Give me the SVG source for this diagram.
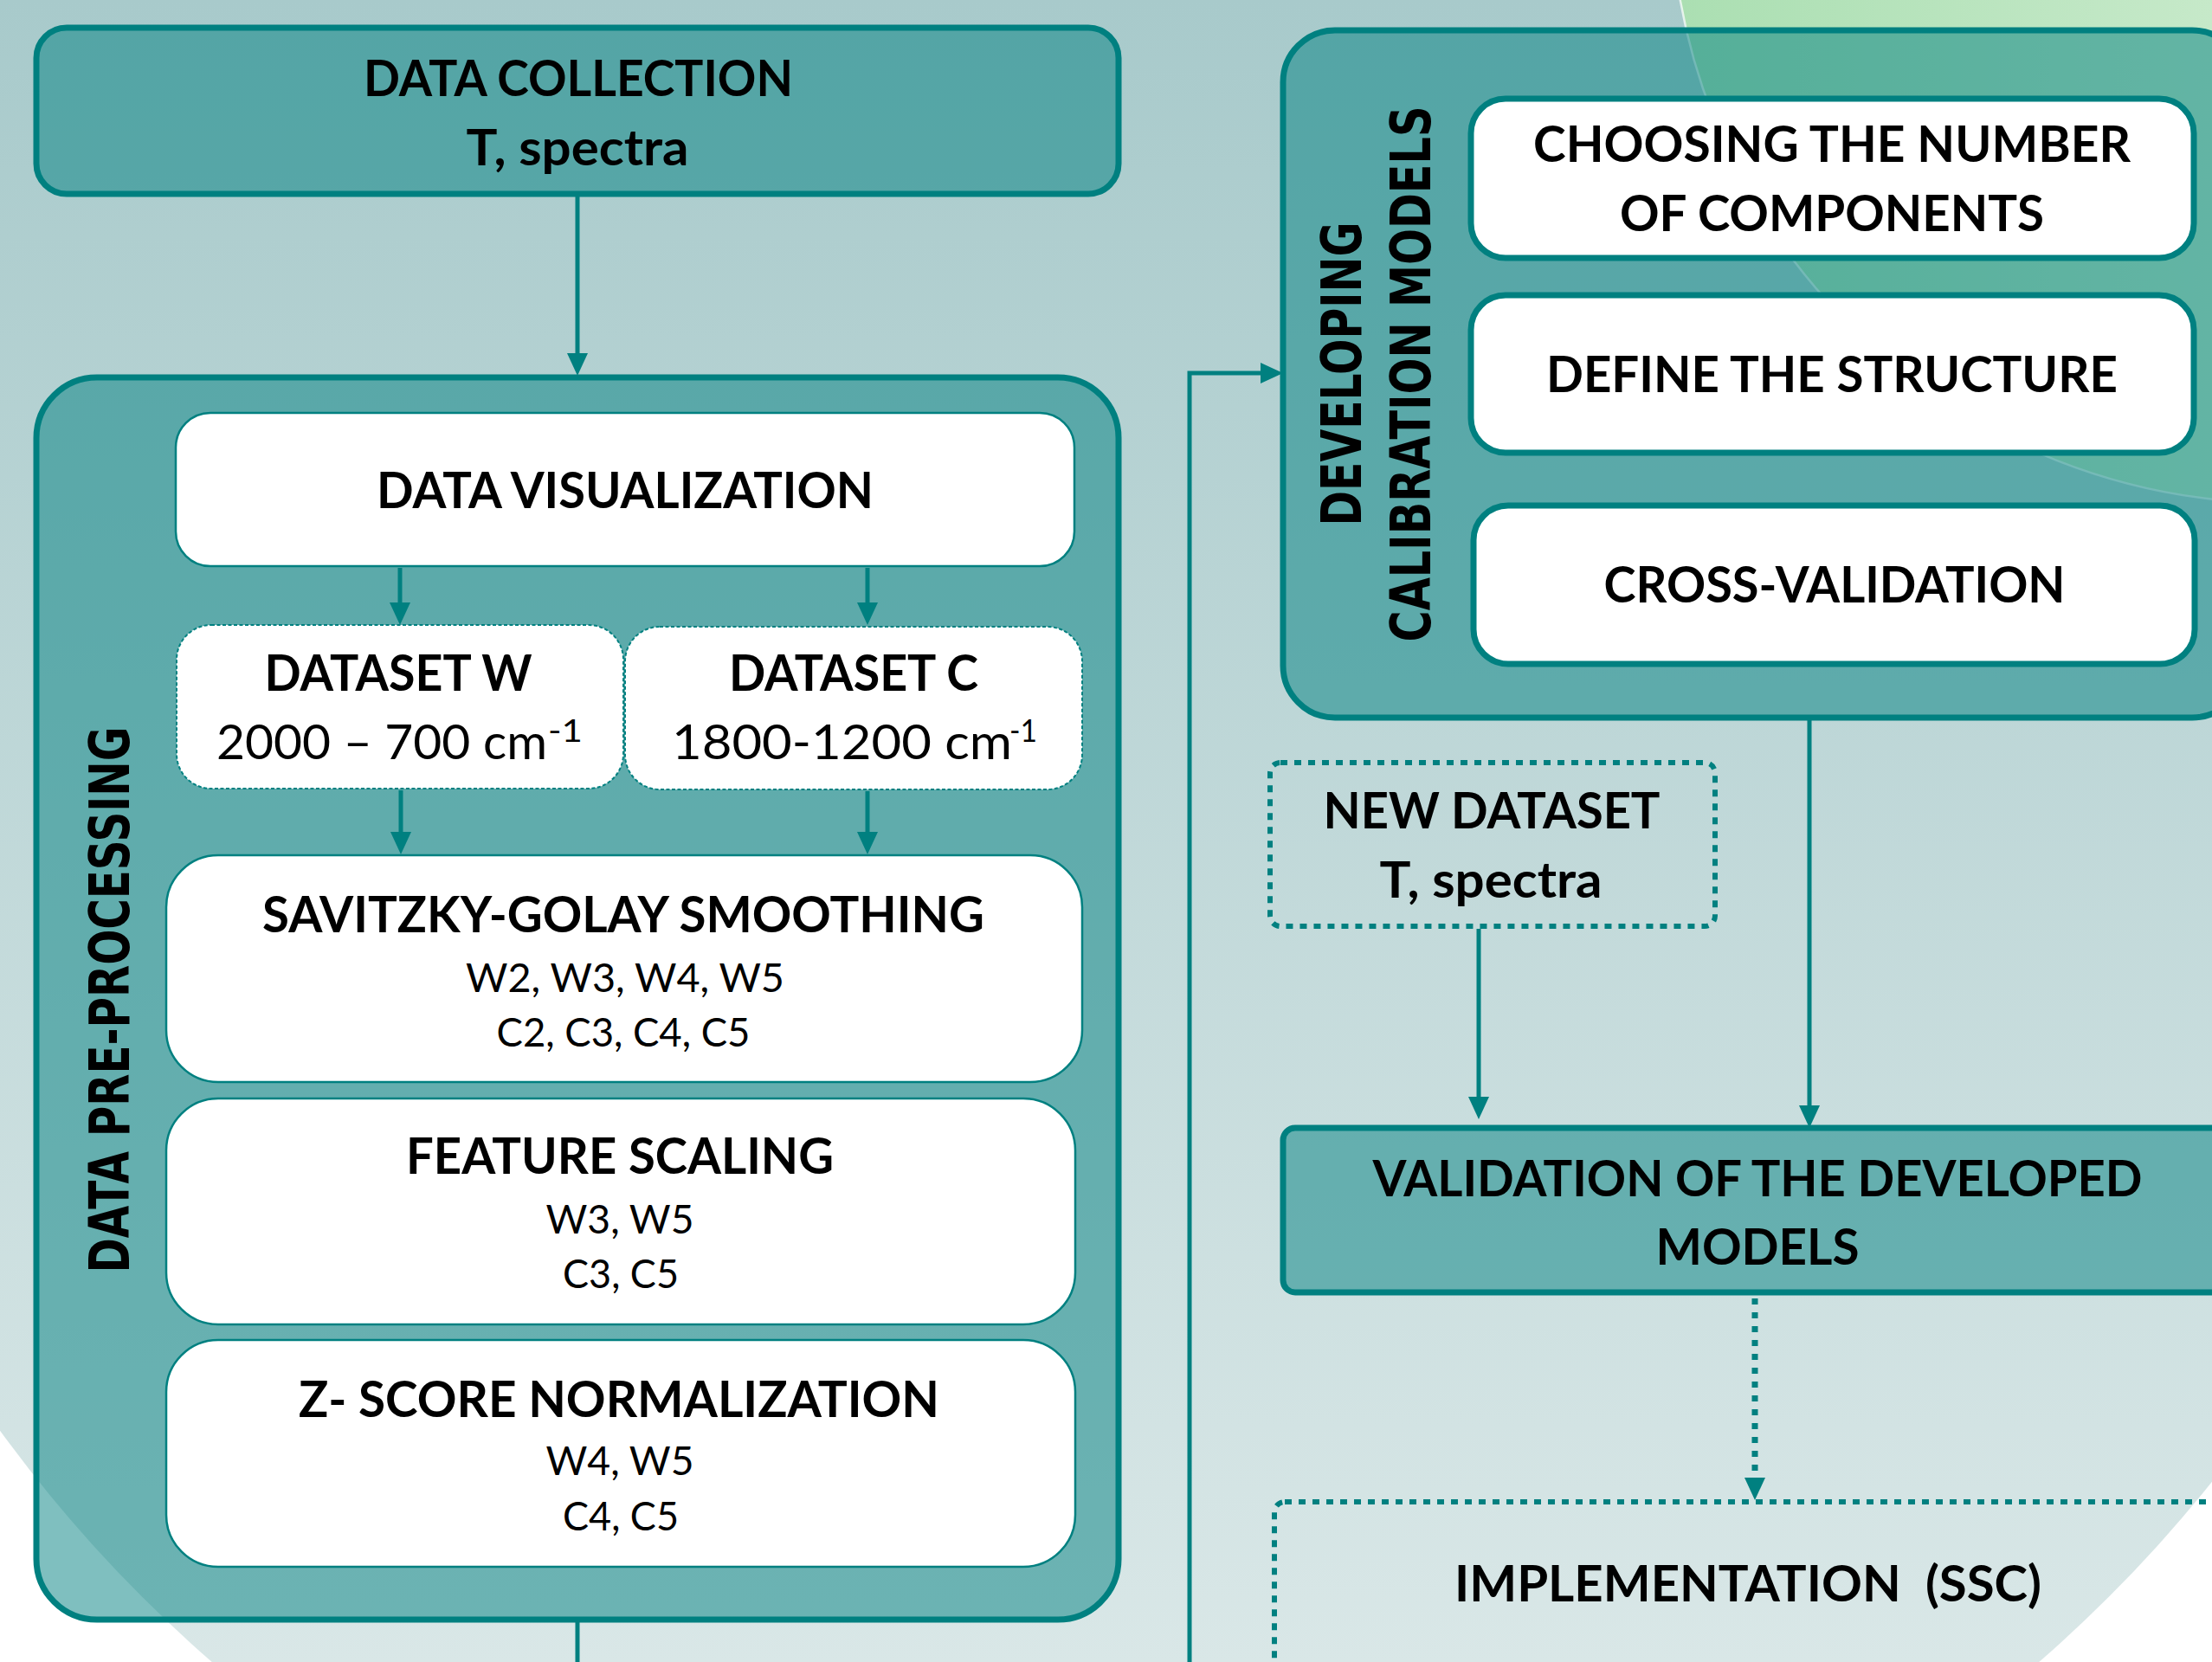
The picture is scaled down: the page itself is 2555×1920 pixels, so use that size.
<svg xmlns="http://www.w3.org/2000/svg" width="2555" height="1920" viewBox="0 0 2555 1920">
<defs>
<linearGradient id="bg" x1="0" y1="0" x2="0" y2="1920" gradientUnits="userSpaceOnUse">
<stop offset="0" stop-color="#a8cacb"/><stop offset="1" stop-color="#d9e7e7"/>
</linearGradient>
<linearGradient id="gr" x1="1940" y1="0" x2="2555" y2="0" gradientUnits="userSpaceOnUse">
<stop offset="0" stop-color="#abdfb2"/><stop offset="1" stop-color="#c6e9c9"/>
</linearGradient>
<marker id="ah" markerUnits="userSpaceOnUse" markerWidth="26" markerHeight="24" refX="16" refY="12" orient="auto" viewBox="0 0 26 24">
<path d="M0,0 L26,12 L0,24 z" fill="#008080"/>
</marker>
<style>
.cont{fill:#008080;fill-opacity:0.5;stroke:#008080;stroke-width:7}
.wb{fill:#fff;stroke:#008080;stroke-width:2.5}
.wbt{fill:#fff;stroke:#008080;stroke-width:7}
.ds{fill:#fff;stroke:#008080;stroke-width:2;stroke-dasharray:4 2.5}
.dot{fill:none;stroke:#008080;stroke-width:6;stroke-dasharray:8 8}
.b{font-family:Lato,"Open Sans",sans-serif;font-weight:700;font-size:57px;fill:#000;text-anchor:middle}
.r{font-family:Lato,"Open Sans",sans-serif;font-weight:400;font-size:47px;fill:#000;text-anchor:middle}
.n{font-family:Lato,"Open Sans",sans-serif;font-weight:400;font-size:56px;fill:#000}
.sup{font-family:Lato,"Open Sans",sans-serif;font-weight:400;font-size:36px;fill:#000}
.v{font-family:"DejaVu Sans",sans-serif;font-weight:700;font-size:64px;fill:#000;text-anchor:middle}
.ln{fill:none;stroke:#008080;stroke-width:5}
.dl{fill:none;stroke:#008080;stroke-width:7;stroke-dasharray:7 9}
</style>
</defs>
<g id="background">
<rect x="0" y="0" width="2555" height="1920" fill="#ffffff"/>
<circle cx="1300" cy="708" r="1607" fill="url(#bg)"/>
<circle cx="2634" cy="-123" r="704" fill="url(#gr)" stroke="#ffffff" stroke-opacity="0.7" stroke-width="2.5"/>
</g>
<g id="data-collection">
<rect class="cont" x="42" y="32" width="1250" height="192" rx="35"/>
<text class="b" x="668" y="111" textLength="496" lengthAdjust="spacingAndGlyphs">DATA COLLECTION</text>
<text class="b" x="667" y="191" textLength="257" lengthAdjust="spacingAndGlyphs">T, spectra</text>
</g>
<g id="data-preprocessing">
<rect class="cont" x="42" y="436" width="1250" height="1435" rx="70"/>
<text class="v" transform="translate(149,1155) rotate(-90)" textLength="631" lengthAdjust="spacingAndGlyphs">DATA PRE-PROCESSING</text>
</g>
<g id="data-visualization">
<rect class="wb" x="203" y="477" width="1038" height="177" rx="40"/>
<text class="b" x="722" y="587" textLength="574" lengthAdjust="spacingAndGlyphs">DATA VISUALIZATION</text>
</g>
<g id="dataset-w">
<rect class="ds" x="204" y="722" width="516" height="189" rx="40"/>
<text class="b" x="460" y="798" textLength="309" lengthAdjust="spacingAndGlyphs">DATASET W</text>
<text class="n" x="250" y="877" textLength="382" lengthAdjust="spacingAndGlyphs">2000 – 700 cm</text>
<text class="sup" x="633" y="857" textLength="40" lengthAdjust="spacingAndGlyphs">-1</text>
</g>
<g id="dataset-c">
<rect class="ds" x="722" y="724" width="528" height="188" rx="40"/>
<text class="b" x="986" y="798" textLength="288" lengthAdjust="spacingAndGlyphs">DATASET C</text>
<text class="n" x="776" y="877" textLength="393" lengthAdjust="spacingAndGlyphs">1800-1200 cm</text>
<text class="sup" x="1166" y="857" textLength="32" lengthAdjust="spacingAndGlyphs">-1</text>
</g>
<g id="savitzky-golay">
<rect class="wb" x="192" y="988" width="1058" height="262" rx="60"/>
<text class="b" x="720" y="1077" textLength="834" lengthAdjust="spacingAndGlyphs">SAVITZKY-GOLAY SMOOTHING</text>
<text class="r" x="722" y="1146" textLength="368" lengthAdjust="spacingAndGlyphs">W2, W3, W4, W5</text>
<text class="r" x="720" y="1209" textLength="293" lengthAdjust="spacingAndGlyphs">C2, C3, C4, C5</text>
</g>
<g id="feature-scaling">
<rect class="wb" x="192" y="1269" width="1050" height="261" rx="60"/>
<text class="b" x="716" y="1356" textLength="494" lengthAdjust="spacingAndGlyphs">FEATURE SCALING</text>
<text class="r" x="716" y="1425" textLength="171" lengthAdjust="spacingAndGlyphs">W3, W5</text>
<text class="r" x="717" y="1488" textLength="134" lengthAdjust="spacingAndGlyphs">C3, C5</text>
</g>
<g id="z-score">
<rect class="wb" x="192" y="1548" width="1050" height="262" rx="60"/>
<text class="b" x="715" y="1637" textLength="740" lengthAdjust="spacingAndGlyphs">Z- SCORE NORMALIZATION</text>
<text class="r" x="716" y="1704" textLength="171" lengthAdjust="spacingAndGlyphs">W4, W5</text>
<text class="r" x="717" y="1768" textLength="134" lengthAdjust="spacingAndGlyphs">C4, C5</text>
</g>
<g id="developing-models">
<rect class="cont" x="1482" y="35" width="1110" height="794" rx="60"/>
<text class="v" transform="translate(1572,432) rotate(-90)" textLength="351" lengthAdjust="spacingAndGlyphs">DEVELOPING</text>
<text class="v" transform="translate(1652,432) rotate(-90)" textLength="619" lengthAdjust="spacingAndGlyphs">CALIBRATION MODELS</text>
</g>
<g id="choosing-components">
<rect class="wbt" x="1699" y="114" width="835" height="184" rx="40"/>
<text class="b" x="2116" y="187" textLength="690" lengthAdjust="spacingAndGlyphs">CHOOSING THE NUMBER</text>
<text class="b" x="2116" y="267" textLength="490" lengthAdjust="spacingAndGlyphs">OF COMPONENTS</text>
</g>
<g id="define-structure">
<rect class="wbt" x="1699" y="341" width="835" height="182" rx="40"/>
<text class="b" x="2116" y="453" textLength="660" lengthAdjust="spacingAndGlyphs">DEFINE THE STRUCTURE</text>
</g>
<g id="cross-validation">
<rect class="wbt" x="1702" y="584" width="833" height="183" rx="40"/>
<text class="b" x="2119" y="696" textLength="533" lengthAdjust="spacingAndGlyphs">CROSS-VALIDATION</text>
</g>
<g id="new-dataset">
<rect class="dot" x="1467" y="881" width="514" height="189" rx="12"/>
<text class="b" x="1723" y="957" textLength="389" lengthAdjust="spacingAndGlyphs">NEW DATASET</text>
<text class="b" x="1722" y="1037" textLength="257" lengthAdjust="spacingAndGlyphs">T, spectra</text>
</g>
<g id="validation">
<rect class="cont" x="1482" y="1303" width="1110" height="190" rx="14"/>
<text class="b" x="2030" y="1382" textLength="889" lengthAdjust="spacingAndGlyphs">VALIDATION OF THE DEVELOPED</text>
<text class="b" x="2030" y="1461" textLength="235" lengthAdjust="spacingAndGlyphs">MODELS</text>
</g>
<g id="implementation">
<rect class="dot" x="1472" y="1735" width="1200" height="400" rx="12"/>
<text class="b" x="2019" y="1850" textLength="678" lengthAdjust="spacingAndGlyphs" xml:space="preserve">IMPLEMENTATION  (SSC)</text>
</g>
<g id="connectors">
<line class="ln" x1="667" y1="226" x2="667" y2="424" marker-end="url(#ah)"/>
<line class="ln" x1="462" y1="656" x2="462" y2="712" marker-end="url(#ah)"/>
<line class="ln" x1="1002" y1="656" x2="1002" y2="712" marker-end="url(#ah)"/>
<line class="ln" x1="463" y1="913" x2="463" y2="977" marker-end="url(#ah)"/>
<line class="ln" x1="1002" y1="914" x2="1002" y2="977" marker-end="url(#ah)"/>
<line class="ln" x1="667" y1="1874" x2="667" y2="1920"/>
<path class="ln" d="M1374,1920 V431 H1472" marker-end="url(#ah)"/>
<line class="ln" x1="2090" y1="832" x2="2090" y2="1293" marker-end="url(#ah)"/>
<line class="ln" x1="1708" y1="1073" x2="1708" y2="1283" marker-end="url(#ah)"/>
<line class="dl" x1="2027" y1="1500" x2="2027" y2="1723" marker-end="url(#ah)"/>
</g>
</svg>
